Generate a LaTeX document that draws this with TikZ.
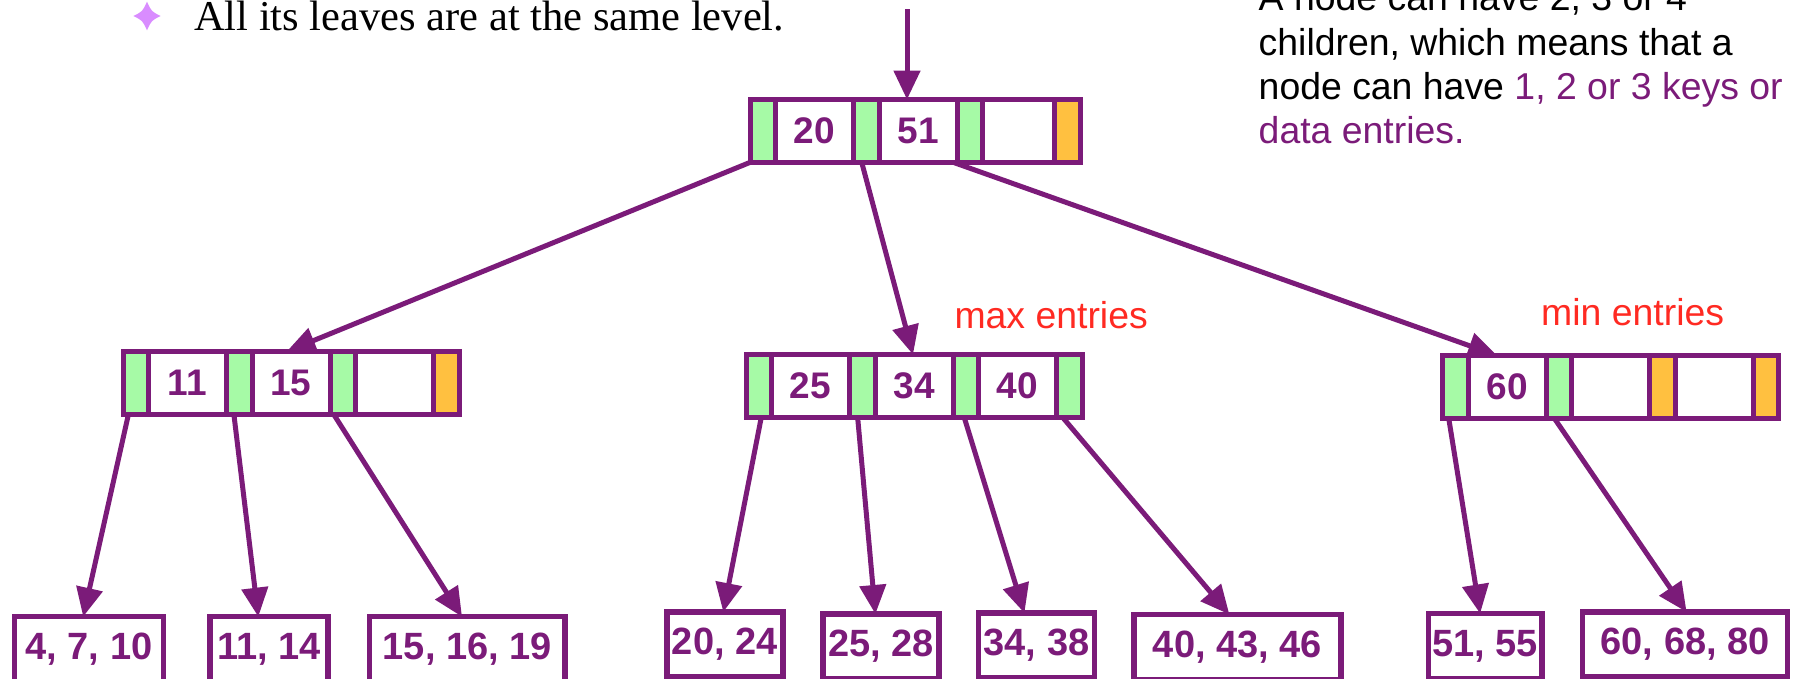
\documentclass[tikz,border=0pt]{standalone}
\usepackage{fontspec}
\setmainfont{Liberation Sans}
\newfontfamily\serifx{Liberation Serif}
\usetikzlibrary{arrows.meta,positioning,calc}
\definecolor{bp}{HTML}{7B1B79}
\definecolor{gf}{HTML}{A6FAA6}
\definecolor{of}{HTML}{FFC040}
\definecolor{rd}{HTML}{FF2A22}
\definecolor{starc}{HTML}{D98CFF}
\pgfdeclarelayer{bg}
\pgfsetlayers{bg,main}
\tikzset{
 cellbase/.style={draw=bp, line width=5pt, inner sep=0pt, outer sep=0pt, minimum height=63pt},
 gcell/.style={cellbase, fill=gf, minimum width=25.5pt},
 ocell/.style={cellbase, fill=of, minimum width=25.5pt},
 wcell/.style={cellbase, fill=white, minimum width=78pt, text=bp, font=\fontsize{37}{37}\selectfont\bfseries},
 leafbox/.style={draw=bp, line width=5.5pt, inner sep=0pt, outer sep=0pt, minimum height=65pt, anchor=north, text=bp, font=\fontsize{38}{38}\selectfont\bfseries},
 arr/.style={draw=bp, line width=5pt, -{Triangle[length=29pt,width=26pt]}},
 sidetext/.style={anchor=base west, inner sep=0pt, font=\fontsize{37.4}{37.4}\selectfont},
 redtext/.style={sidetext, text=rd},
}
\begin{document}
\begin{tikzpicture}[x=1pt,y=-1pt]
\useasboundingbox (0,0) rectangle (1793,678);
\clip (0,0) rectangle (1793,678);

% bullet line
\fill[starc] (147,1.7) .. controls (151.5,11.5) .. (160.7,16) .. controls (151.5,20.5) .. (147,30.3) .. controls (142.5,20.5) .. (133.3,16) .. controls (142.5,11.5) .. (147,1.7) -- cycle;
\node[anchor=base west, inner sep=0pt, font=\serifx\fontsize{42.5}{42.5}\selectfont] (bul) at (194,30) {All its leaves are at the same level.};

% side text
\node[sidetext] (t1) at (1258.5,10) {A node can have 2, 3 or 4};
\node[sidetext] (t2) at (1258.5,55) {children, which means that a};
\node[sidetext] (t3) at (1258.5,99) {node can have {\color{bp}1, 2 or 3 keys or}};
\node[sidetext, text=bp] (t4) at (1258.5,143) {data entries.};

\node[redtext] (maxl) at (954.3,328.3) {max entries};
\node[redtext] (minl) at (1541,325) {min entries};

% root
\node[gcell, anchor=west] (r0) at (750,131) {};
\node[wcell, right=0pt of r0] (r1) {20};
\node[gcell, right=0pt of r1] (r2) {};
\node[wcell, right=0pt of r2] (r3) {51};
\node[gcell, right=0pt of r3] (r4) {};
\node[wcell, minimum width=72pt, right=0pt of r4] (r5) {};
\node[ocell, right=0pt of r5] (r6) {};

% left internal node
\node[gcell, anchor=west] (l0) at (123,383) {};
\node[wcell, right=0pt of l0] (l1) {11};
\node[gcell, right=0pt of l1] (l2) {};
\node[wcell, right=0pt of l2] (l3) {15};
\node[gcell, right=0pt of l3] (l4) {};
\node[wcell, right=0pt of l4] (l5) {};
\node[ocell, right=0pt of l5] (l6) {};

% middle internal node
\node[gcell, anchor=west] (m0) at (746,386) {};
\node[wcell, right=0pt of m0] (m1) {25};
\node[gcell, right=0pt of m1] (m2) {};
\node[wcell, right=0pt of m2] (m3) {34};
\node[gcell, right=0pt of m3] (m4) {};
\node[wcell, right=0pt of m4] (m5) {40};
\node[gcell, right=0pt of m5] (m6) {};

% right internal node
\node[gcell, anchor=west] (n0) at (1442.5,387) {};
\node[wcell, right=0pt of n0] (n1) {60};
\node[gcell, right=0pt of n1] (n2) {};
\node[wcell, right=0pt of n2] (n3) {};
\node[ocell, right=0pt of n3] (n4) {};
\node[wcell, right=0pt of n4] (n5) {};
\node[ocell, right=0pt of n5] (n6) {};

% leaves
\node[leafbox, minimum width=149.3pt] (L1) at (89,616.7) {4, 7, 10};
\node[leafbox, minimum width=117.7pt] (L2) at (269,616.7) {11, 14};
\node[leafbox, minimum width=195.2pt] (L3) at (467.3,616.7) {15, 16, 19};
\node[leafbox, minimum width=116pt] (L4) at (724.8,612) {20, 24};
\node[leafbox, minimum width=115.9pt] (L5) at (881.1,614) {25, 28};
\node[leafbox, minimum width=116.2pt] (L6) at (1036.5,613) {34, 38};
\node[leafbox, minimum width=207.1pt] (L7) at (1237.5,614.5) {40, 43, 46};
\node[leafbox, minimum width=113.6pt] (L8) at (1485.1,613.5) {51, 55};
\node[leafbox, minimum width=205pt] (L9) at (1685.2,612) {60, 68, 80};

\coordinate (in) at (907,9);

\begin{pgfonlayer}{bg}
\draw[arr] (in) -- ($(r3.north)+(-11,0)$);
\draw[arr] ($(r0.south)+(-13,0)$) -- ($(l3.north)+(-4.3,0)$);
\draw[arr] ($(r2.south)+(-4.5,0)$) -- ($(m3.north)+(-1,0)$);
\draw[arr] ($(r4.south)+(-16,0)$) -- ($(n1.north)+(-10,0)$);

\draw[arr] ($(l0.south)+(-7.35,0)$) -- ($(L1.north)+(-5.8,0)$);
\draw[arr] ($(l2.south)+(-5.35,0)$) -- ($(L2.north)+(-10.7,0)$);
\draw[arr] ($(l4.south)+(-8.95,0)$) -- ($(L3.north)+(-5.3,0)$);

\draw[arr] ($(m0.south)+(2.5,0)$) -- ($(L4.north)+(-1.5,0)$);
\draw[arr] ($(m2.south)+(-4.6,0)$) -- ($(L5.north)+(-5.7,0)$);
\draw[arr] ($(m4.south)+(-1.5,0)$) -- ($(L6.north)+(-12.1,0)$);
\draw[arr] ($(m6.south)+(-6.5,0)$) -- ($(L7.north)+(-8.1,0)$);

\draw[arr] ($(n0.south)+(-6.5,0)$) -- ($(L8.north)+(-5,0)$);
\draw[arr] ($(n2.south)+(-4.3,0)$) -- ($(L9.north)+(1.4,0)$);
\end{pgfonlayer}
\end{tikzpicture}
\end{document}
